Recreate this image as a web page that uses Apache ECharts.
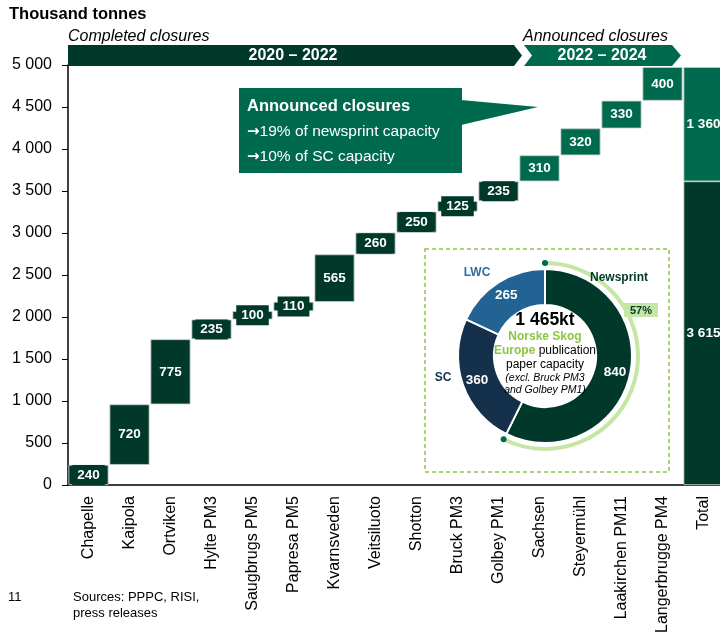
<!DOCTYPE html>
<html><head><meta charset="utf-8">
<script src="https://cdn.jsdelivr.net/npm/echarts@6/dist/echarts.min.js"></script>
<style>html,body{margin:0;padding:0;background:#fff}#c{width:720px;height:642px}</style>
</head><body><div id="c"></div>
<script>
// ---- data ----
const categories = ['Chapelle','Kaipola','Ortviken','Hylte PM3','Saugbrugs PM5','Papresa PM5','Kvarnsveden','Veitsiluoto','Shotton','Bruck PM3','Golbey PM1','Sachsen','Steyermühl','Laakirchen PM11','Langerbrugge PM4','Total'];
const completedClosures = [240,720,775,235,100,110,565,260,250,125,235];
const announcedClosures = [310,320,330,400];
const capacityNames = ['Newsprint','SC','LWC'];
const capacityValues = [840,360,265];
const yMin = 0, yMax = 5000, yStep = 500;

// ---- build waterfall ----
const base = [], compSeries = [], annSeries = [];
let cum = 0;
completedClosures.forEach(v => { base.push(cum); compSeries.push(v); annSeries.push('-'); cum += v; });
const compTotal = cum;
announcedClosures.forEach(v => { base.push(cum); compSeries.push('-'); annSeries.push(v); cum += v; });
const annTotal = cum - compTotal;
base.push(0);
compSeries.push({value:compTotal, label:{backgroundColor:'transparent'}});
annSeries.push({value:annTotal, label:{backgroundColor:'transparent'}});

const DARK = '#00382a', MID = '#006a4e';
const FONT = '"Liberation Sans", Arial, sans-serif';
const fmt = v => String(v).replace(/\B(?=(\d{3})+(?!\d))/g, ' ');

const capTotal = capacityValues.reduce((a,b)=>a+b,0);
const newsShare = capacityValues[0] / capTotal;
const pieC = [545, 356];
const arcR = 93;
const a0 = -Math.PI/2, a1 = -Math.PI/2 + 2*Math.PI*newsShare;

function barLabel(color){
  return {show:true, position:'inside', formatter: p => fmt(p.value), color:'#fff', fontFamily:FONT,
    fontWeight:'bold', fontSize:13.5, backgroundColor: color, padding:[3,5]};
}
const arrowRich = {a:{font:'bold 15px "DejaVu Sans"', fill:'#fff', color:'#fff'}, t:{font:'15.5px '+FONT, fill:'#fff', color:'#fff'}};

const chart = echarts.init(document.getElementById('c'), null, {renderer:'canvas'});
chart.setOption({
  animation:false,
  textStyle:{fontFamily:FONT},
  grid:{left:68, top:65, width:656, height:420, containLabel:false, outerBoundsMode:'none'},
  xAxis:{type:'category', data:categories,
    axisLine:{lineStyle:{color:'#000', width:1.5}}, axisTick:{show:false},
    axisLabel:{rotate:90, interval:0, fontSize:16, color:'#000', margin:11, fontFamily:FONT}},
  yAxis:{type:'value', min:yMin, max:yMax, interval:yStep,
    axisLine:{show:true, lineStyle:{color:'#000', width:1.5}},
    axisTick:{show:true, length:6, lineStyle:{color:'#000', width:1}},
    splitLine:{show:false},
    axisLabel:{fontSize:16, color:'#000', margin:16, formatter:fmt, fontFamily:FONT}},
  series:[
    {type:'bar', stack:'w', data:base, barWidth:40, silent:true, itemStyle:{color:'transparent'}},
    {type:'bar', stack:'w', data:compSeries, barWidth:40,
      itemStyle:{color:DARK, borderColor:'#c3cec9', borderWidth:0.8}, label:barLabel(DARK)},
    {type:'bar', stack:'w', data:annSeries, barWidth:40,
      itemStyle:{color:MID, borderColor:'#c3cec9', borderWidth:0.8}, label:barLabel(MID)},
    {type:'pie', center:pieC, radius:[51,87], startAngle:90, clockwise:true, silent:true, z:20,
      data: capacityNames.map((n,i)=>({name:n, value:capacityValues[i],
        itemStyle:{color:['#00382a','#14304b','#236394'][i]}})),
      itemStyle:{borderColor:'#fff', borderWidth:2},
      label:{show:true, position:'inside', formatter:'{c}', color:'#fff', fontWeight:'bold', fontSize:13.5, fontFamily:FONT},
      labelLine:{show:false}}
  ],
  graphic:[
    {type:'text', x:9, y:14, z:100, style:{text:'Thousand tonnes', font:'bold 16.5px '+FONT, fill:'#000', textVerticalAlign:'middle', verticalAlign:'middle'}},
    {type:'text', x:68, y:37, z:100, style:{text:'Completed closures', font:'italic 16px '+FONT, fill:'#000', textVerticalAlign:'middle', verticalAlign:'middle'}},
    {type:'text', x:523, y:37, z:100, style:{text:'Announced closures', font:'italic 16px '+FONT, fill:'#000', textVerticalAlign:'middle', verticalAlign:'middle'}},
    {type:'polygon', z:100, shape:{points:[[68,45],[514,45],[522,55.5],[514,66],[68,66]]}, style:{fill:DARK}},
    {type:'polygon', z:100, shape:{points:[[524,45],[672,45],[681,55.5],[672,66],[524,66],[532,55.5]]}, style:{fill:MID}},
    {type:'text', x:293, y:56, z:101, style:{text:'2020 – 2022', font:'bold 16px '+FONT, fill:'#fff', textAlign:'center', align:'center', textVerticalAlign:'middle', verticalAlign:'middle'}},
    {type:'text', x:602, y:56, z:101, style:{text:'2022 – 2024', font:'bold 16px '+FONT, fill:'#fff', textAlign:'center', align:'center', textVerticalAlign:'middle', verticalAlign:'middle'}},
    // callout
    {type:'rect', z:100, shape:{x:239, y:88, width:223, height:85}, style:{fill:MID}},
    {type:'polygon', z:100, shape:{points:[[461,100],[538,107],[461,125]]}, style:{fill:MID}},
    {type:'text', x:247, y:106, z:101, style:{text:'Announced closures', font:'bold 16.5px '+FONT, fill:'#fff', textVerticalAlign:'middle', verticalAlign:'middle'}},
    {type:'text', x:247, y:132, z:101, style:{text:'{a|→}{t|19% of newsprint capacity}', rich:arrowRich, textVerticalAlign:'middle', verticalAlign:'middle'}},
    {type:'text', x:247, y:157, z:101, style:{text:'{a|→}{t|10% of SC capacity}', rich:arrowRich, textVerticalAlign:'middle', verticalAlign:'middle'}},
    // inset
    {type:'rect', z:10, shape:{x:425, y:249, width:244, height:223}, style:{fill:null, stroke:'#8dc63f', lineWidth:1.5, lineDash:[4,3]}},
    {type:'arc', z:100, shape:{cx:pieC[0], cy:pieC[1], r:arcR, startAngle:a0, endAngle:a1, clockwise:true}, style:{stroke:'#c6e6a5', lineWidth:4, fill:null}},
    {type:'circle', z:101, shape:{cx:pieC[0]+arcR*Math.cos(a0), cy:pieC[1]+arcR*Math.sin(a0), r:3}, style:{fill:MID}},
    {type:'circle', z:101, shape:{cx:pieC[0]+arcR*Math.cos(a1), cy:pieC[1]+arcR*Math.sin(a1), r:3}, style:{fill:MID}},
    {type:'rect', z:100, shape:{x:624, y:303, width:34, height:14}, style:{fill:'#c6e6a5'}},
    {type:'text', x:641, y:310.5, z:101, style:{text:Math.round(newsShare*100)+'%', font:'bold 11px '+FONT, fill:DARK, textAlign:'center', align:'center', textVerticalAlign:'middle', verticalAlign:'middle'}},
    {type:'text', x:619, y:278, z:101, style:{text:capacityNames[0], font:'bold 12px '+FONT, fill:DARK, textAlign:'center', align:'center', textVerticalAlign:'middle', verticalAlign:'middle'}},
    {type:'text', x:477, y:273, z:101, style:{text:capacityNames[2], font:'bold 12px '+FONT, fill:'#2e6da4', textAlign:'center', align:'center', textVerticalAlign:'middle', verticalAlign:'middle'}},
    {type:'text', x:443, y:378, z:101, style:{text:capacityNames[1], font:'bold 12px '+FONT, fill:'#14304b', textAlign:'center', align:'center', textVerticalAlign:'middle', verticalAlign:'middle'}},
    {type:'text', x:545, y:320, z:101, style:{text:fmt(capTotal)+'kt', font:'bold 17.5px '+FONT, fill:'#000', textAlign:'center', align:'center', textVerticalAlign:'middle', verticalAlign:'middle'}},
    {type:'text', x:545, y:337, z:101, style:{text:'Norske Skog', font:'bold 12px '+FONT, fill:'#8dc63f', textAlign:'center', align:'center', textVerticalAlign:'middle', verticalAlign:'middle'}},
    {type:'text', x:545, y:351, z:101, style:{text:'{g|Europe}{n| publication}', textAlign:'center', align:'center', textVerticalAlign:'middle', verticalAlign:'middle',
      rich:{g:{font:'bold 12px '+FONT, fill:'#8dc63f', color:'#8dc63f'}, n:{font:'12px '+FONT, fill:'#000', color:'#000'}}}},
    {type:'text', x:545, y:365, z:101, style:{text:'paper capacity', font:'12px '+FONT, fill:'#000', textAlign:'center', align:'center', textVerticalAlign:'middle', verticalAlign:'middle'}},
    {type:'text', x:545, y:378, z:101, style:{text:'(excl. Bruck PM3', font:'italic 10.5px '+FONT, fill:'#000', textAlign:'center', align:'center', textVerticalAlign:'middle', verticalAlign:'middle'}},
    {type:'text', x:545, y:390, z:101, style:{text:'and Golbey PM1)', font:'italic 10.5px '+FONT, fill:'#000', textAlign:'center', align:'center', textVerticalAlign:'middle', verticalAlign:'middle'}},
    // footnotes
    {type:'text', x:8, y:597, z:100, style:{text:'11', font:'13px '+FONT, fill:'#000', textVerticalAlign:'middle', verticalAlign:'middle'}},
    {type:'text', x:73, y:597, z:100, style:{text:'Sources: PPPC, RISI,', font:'13px '+FONT, fill:'#000', textVerticalAlign:'middle', verticalAlign:'middle'}},
    {type:'text', x:73, y:613, z:100, style:{text:'press releases', font:'13px '+FONT, fill:'#000', textVerticalAlign:'middle', verticalAlign:'middle'}}
  ]
});
</script></body></html>
